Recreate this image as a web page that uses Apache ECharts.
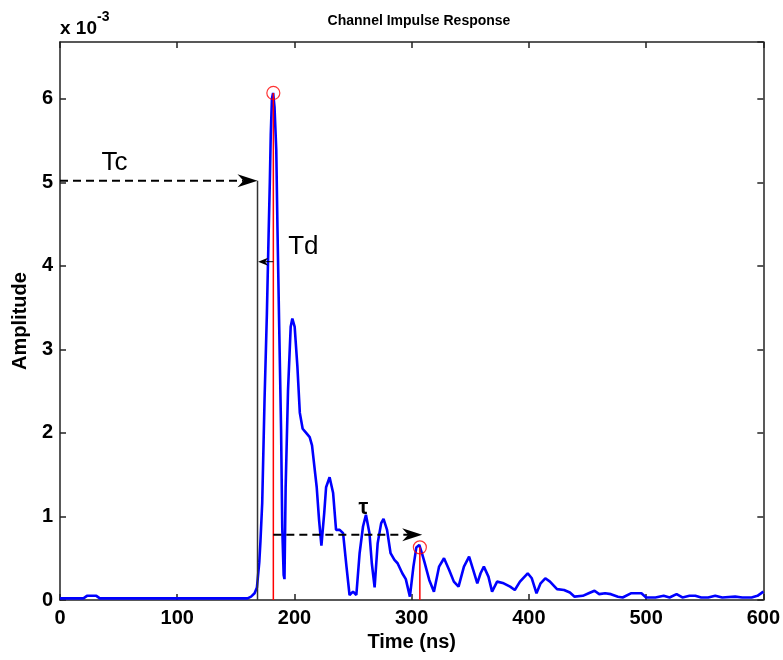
<!DOCTYPE html>
<html><head><meta charset="utf-8">
<script src="https://cdn.jsdelivr.net/npm/echarts@6/dist/echarts.min.js"></script>
<style>html,body{margin:0;padding:0;background:#fff}#c{width:783px;height:660px}</style>
</head><body><div id="c"></div>
<script>
// Time axis (ns) and channel impulse response amplitude (in units of 1e-3)
const timeNs = [0,10,20,23,31,34,60,100,130,160,163,166,168,170,171,172.5,174.5,176.5,178,179,179.8,180.8,181.8,183,184.5,185.5,187,188.6,189.6,190.8,191.5,192.5,194.5,196.8,198.2,200.2,202.5,204.6,207,210,213,215,217,219,221,223,225.4,227,230,233,235.5,238.6,241.5,244.4,247,250,252.8,255.6,258.5,261,264,266,268.4,271,274,276,279,282,285.3,288,292,295,298.5,301.5,304,306.5,309,311,315,319,323.4,327.6,332,336,340,344.6,349,352.5,356,358.8,361.6,365.5,368.6,372.9,378.5,384,388,392.4,399,402.5,406.5,410,414,418,424,430,435,439,446,451,456,460,465,470,476,480,487,496,500,508,515,520,526,531,537,542,547,553,559,565,576,582,590,595,598,600];
const amplitude = [0.02,0.02,0.02,0.05,0.05,0.02,0.02,0.02,0.02,0.02,0.04,0.08,0.15,0.45,0.7,1.16,2.4,3.43,4.4,5.0,5.57,6.0,6.07,5.9,5.39,4.47,3.27,2.04,0.87,0.3,0.25,1.35,2.5,3.27,3.37,3.27,2.8,2.24,2.05,2.0,1.95,1.85,1.6,1.35,0.96,0.65,1.04,1.35,1.47,1.28,0.84,0.84,0.8,0.4,0.06,0.1,0.06,0.56,0.88,1.02,0.8,0.44,0.15,0.68,0.92,0.97,0.84,0.56,0.48,0.44,0.32,0.25,0.04,0.4,0.63,0.66,0.55,0.45,0.24,0.1,0.4,0.5,0.36,0.22,0.16,0.4,0.52,0.36,0.2,0.32,0.4,0.28,0.1,0.22,0.2,0.16,0.12,0.22,0.32,0.26,0.08,0.2,0.26,0.22,0.13,0.12,0.09,0.04,0.05,0.08,0.11,0.07,0.08,0.07,0.04,0.03,0.08,0.08,0.03,0.03,0.05,0.03,0.07,0.03,0.05,0.05,0.03,0.03,0.05,0.03,0.04,0.03,0.03,0.05,0.08,0.1];

const xRange = [0, 600];
const xStep = 100;
const yRange = [0, 6.68];
const yStep = 1;

// Annotations (data units)
const peakPoints = [[182, 6.07], [307, 0.63]];
const tcLine = [[168.5, 0], [168.5, 5.02]];
const tcArrow = [0, 5.02, 168.5, 5.02];
const tauArrow = [182, 0.78, 309, 0.78];
const tdArrow = [182, 4.05, 169, 4.05];
const labelTexts = ['Tc', 'Td', '\u03C4'];
const labelPos = [[46.6, 5.23], [207.6, 4.23], [258.8, 1.1]];

const FONT = "'Liberation Sans', Arial, Helvetica, sans-serif";
const chart = echarts.init(document.getElementById('c'));

function arrowRenderer(o) {
  return function (params, api) {
    const p1 = api.coord([api.value(0), api.value(1)]);
    const p2 = api.coord([api.value(2), api.value(3)]);
    const dx = p2[0] - p1[0], dy = p2[1] - p1[1];
    const len = Math.hypot(dx, dy) || 1;
    const ux = dx / len, uy = dy / len, nx = -uy, ny = ux;
    const L = o.headLen, W = o.headWidth / 2;
    const bx = p2[0] - ux * L, by = p2[1] - uy * L;
    const mx = p2[0] - ux * L * (1 - o.notch), my = p2[1] - uy * L * (1 - o.notch);
    const head = [[p2[0], p2[1]], [bx + nx * W, by + ny * W], [mx, my], [bx - nx * W, by - ny * W]];
    return {
      type: 'group',
      children: [
        { type: 'line', shape: { x1: p1[0], y1: p1[1], x2: mx, y2: my },
          style: { stroke: '#000', lineWidth: o.lineWidth, lineDash: o.dash } },
        { type: 'polygon', shape: { points: head }, style: { fill: '#000' } }
      ]
    };
  };
}

function axisCommon() {
  return {
    axisLine: { show: true, onZero: false, lineStyle: { color: '#222', width: 1.5 } },
    axisTick: { show: true, inside: true, length: 6, lineStyle: { color: '#222', width: 1.5 } },
    splitLine: { show: false }
  };
}

chart.setOption({
  animation: false,
  backgroundColor: '#fff',
  textStyle: { fontFamily: FONT },
  title: {
    text: 'Channel Impulse Response',
    left: 414, top: 9, textAlign: 'center',
    textStyle: { fontSize: 14, fontWeight: 'bold', color: '#000', fontFamily: FONT }
  },
  graphic: [{
    type: 'text', left: 60, top: 10,
    style: {
      text: '{a|x 10}{b|-3}',
      rich: {
        a: { fontSize: 19, fontWeight: 'bold', fill: '#000', fontFamily: FONT, verticalAlign: 'bottom', lineHeight: 28 },
        b: { fontSize: 14, fontWeight: 'bold', fill: '#000', fontFamily: FONT, verticalAlign: 'top', lineHeight: 28, padding: [0, 0, 12, 0] }
      }
    }
  }],
  grid: { left: 60, right: 15, top: 42, bottom: 60, containLabel: false },
  xAxis: [
    Object.assign(axisCommon(), {
      type: 'value', min: xRange[0], max: xRange[1], interval: xStep, position: 'bottom',
      name: 'Time (ns)', nameLocation: 'middle', nameGap: 30,
      nameTextStyle: { fontSize: 20, fontWeight: 'bold', color: '#000', fontFamily: FONT },
      axisLabel: { fontSize: 20, fontWeight: 'bold', color: '#000', margin: 8, fontFamily: FONT }
    }),
    Object.assign(axisCommon(), {
      type: 'value', min: xRange[0], max: xRange[1], interval: xStep, position: 'top',
      axisLabel: { show: false }
    })
  ],
  yAxis: [
    Object.assign(axisCommon(), {
      type: 'value', min: yRange[0], max: yRange[1], interval: yStep, position: 'left',
      name: 'Amplitude', nameLocation: 'middle', nameGap: 30, nameRotate: 90,
      nameTextStyle: { fontSize: 20, fontWeight: 'bold', color: '#000', fontFamily: FONT },
      axisLabel: { fontSize: 20, fontWeight: 'bold', color: '#000', margin: 7, fontFamily: FONT,
        showMaxLabel: false,
        formatter: v => (Math.abs(v - Math.round(v)) < 1e-6 ? String(Math.round(v)) : '') }
    }),
    Object.assign(axisCommon(), {
      type: 'value', min: yRange[0], max: yRange[1], interval: yStep, position: 'right',
      axisLabel: { show: false }
    })
  ],
  series: [
    {
      type: 'line', name: 'CIR', z: 2,
      data: timeNs.map((t, i) => [t, amplitude[i]]),
      showSymbol: false, symbol: 'none',
      lineStyle: { color: '#0000ff', width: 2.6 },
      silent: true
    },
    {
      type: 'line', z: 3, symbol: 'none', silent: true,
      data: [[peakPoints[0][0], 0], peakPoints[0]],
      lineStyle: { color: '#ff0000', width: 1.5 }
    },
    {
      type: 'line', z: 3, symbol: 'none', silent: true,
      data: [[peakPoints[1][0], 0], peakPoints[1]],
      lineStyle: { color: '#ff0000', width: 1.5 }
    },
    {
      type: 'line', z: 3, symbol: 'none', silent: true,
      data: tcLine,
      lineStyle: { color: '#333', width: 1.5 }
    },
    {
      type: 'custom', z: 4, silent: true,
      renderItem: arrowRenderer({ headLen: 20, headWidth: 13, notch: 0.3, lineWidth: 2, dash: [8, 5] }),
      encode: { x: [0, 2], y: [1, 3] },
      data: [tcArrow, tauArrow]
    },
    {
      type: 'custom', z: 4, silent: true,
      renderItem: arrowRenderer({ headLen: 10, headWidth: 8, notch: 0.3, lineWidth: 1, dash: null }),
      encode: { x: [0, 2], y: [1, 3] },
      data: [tdArrow]
    },
    {
      type: 'scatter', z: 5, silent: true,
      data: peakPoints,
      symbol: 'circle', symbolSize: 13,
      itemStyle: { color: 'rgba(0,0,0,0)', borderColor: '#ff0000', borderWidth: 1.2 }
    },
    {
      type: 'custom', z: 6, silent: true,
      encode: { x: 0, y: 1 },
      data: labelPos,
      renderItem: function (params, api) {
        const p = api.coord([api.value(0), api.value(1)]);
        const isTau = params.dataIndex === 2;
        return {
          type: 'text', x: p[0], y: p[1],
          style: {
            text: labelTexts[params.dataIndex],
            fontSize: isTau ? 22 : 26, fontWeight: isTau ? 'bold' : 'normal',
            fontFamily: FONT, fill: '#000', align: 'center', verticalAlign: 'middle'
          }
        };
      }
    }
  ]
});
</script></body></html>
